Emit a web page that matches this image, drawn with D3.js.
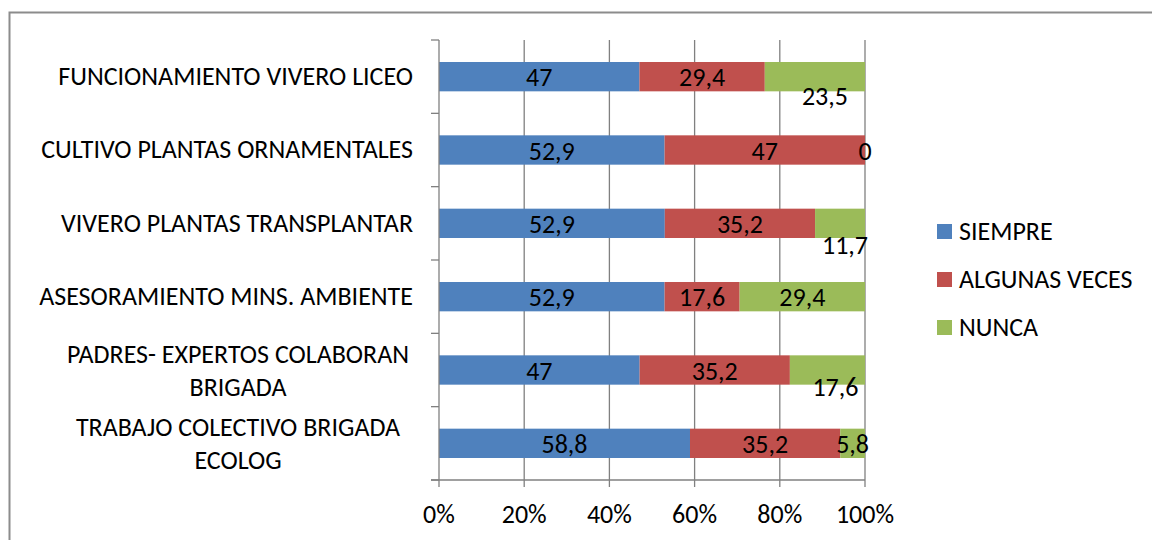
<!DOCTYPE html>
<html><head><meta charset="utf-8">
<script src="https://cdn.jsdelivr.net/npm/d3@7"></script>
<style>
body{margin:0;background:#fff}
text{font-family:Carlito,"Open Sans",sans-serif;font-size:26px;fill:#000}
</style></head>
<body><svg id="chart" width="1152" height="540"></svg>
<script>
// ---- data ----
const categories = [
  ["FUNCIONAMIENTO VIVERO LICEO"],
  ["CULTIVO PLANTAS ORNAMENTALES"],
  ["VIVERO PLANTAS TRANSPLANTAR"],
  ["ASESORAMIENTO MINS. AMBIENTE"],
  ["PADRES- EXPERTOS COLABORAN","BRIGADA"],
  ["TRABAJO COLECTIVO BRIGADA","ECOLOG"]
];
const seriesNames = ["SIEMPRE","ALGUNAS VECES","NUNCA"];
const siempre      = [47, 52.9, 52.9, 52.9, 47, 58.8];
const algunasVeces = [29.4, 47, 35.2, 17.6, 35.2, 35.2];
const nunca        = [23.5, 0, 11.7, 29.4, 17.6, 5.8];
const xTicks = [0, 20, 40, 60, 80, 100];
const xTickLabels = ["0%","20%","40%","60%","80%","100%"];

// ---- styling / layout ----
const colors = ["#4F81BD","#C0504D","#9BBB59"];
const gridColor = "#808080";
// manual label nudges for the NUNCA series (as in reference)
const nuncaLabelShift = [[10,19],[0,0],[5,21],[0,0],[8,16],[0,0]];

const svg = d3.select("#chart");
svg.append("rect").attr("x",9.5).attr("y",12.5).attr("width",1200).attr("height",600)
  .attr("fill","#fff").attr("stroke","#8c8c8c").attr("stroke-width",2);

const x = d3.scaleLinear().domain([0,100]).range([439,865]);
const catIdx = categories.map((c,i)=>i);
const y = d3.scaleBand().domain(catIdx).range([40,480]).paddingInner(0.6).paddingOuter(0.3);
const step = y.step();

// gridlines
svg.append("g").selectAll("line").data(xTicks.slice(1)).join("line")
  .attr("x1",d=>x(d)).attr("x2",d=>x(d)).attr("y1",40).attr("y2",480)
  .attr("stroke",gridColor).attr("stroke-width",1.3);

// stacked data (100%)
const series = [siempre, algunasVeces, nunca];
const rows = catIdx.map(i=>{
  const total = siempre[i]+algunasVeces[i]+nunca[i];
  let acc = 0;
  return series.map((s,k)=>{
    const v0 = acc/total*100; acc += s[i]; const v1 = acc/total*100;
    return {i,k,v:s[i],v0,v1};
  });
});
const segs = rows.flat();

svg.append("g").selectAll("rect").data(segs).join("rect")
  .attr("x",d=>x(d.v0)).attr("width",d=>x(d.v1)-x(d.v0))
  .attr("y",d=>y(d.i)).attr("height",y.bandwidth())
  .attr("fill",d=>colors[d.k]);

// data labels
svg.append("g").selectAll("text").data(segs).join("text")
  .attr("x",d=>(x(d.v0)+x(d.v1))/2 + (d.k===2?nuncaLabelShift[d.i][0]:0))
  .attr("y",d=>y(d.i)+y.bandwidth()/2 + 1.5 + (d.k===2?nuncaLabelShift[d.i][1]:0))
  .attr("dy","0.32em").attr("text-anchor","middle")
  .text(d=>String(d.v).replace(".",","));

// y axis line + ticks
const axisG = svg.append("g");
axisG.append("line").attr("x1",439).attr("x2",439).attr("y1",40).attr("y2",480)
  .attr("stroke",gridColor).attr("stroke-width",1.3);
const bounds = catIdx.map(i=>y(i)-(step-y.bandwidth())/2).concat([480]);
axisG.selectAll(".yt").data(bounds).join("line").attr("class","yt")
  .attr("x1",431).attr("x2",439).attr("y1",d=>d).attr("y2",d=>d)
  .attr("stroke",gridColor).attr("stroke-width",1.3);
// x axis line + ticks
axisG.append("line").attr("x1",431).attr("x2",865).attr("y1",480).attr("y2",480)
  .attr("stroke",gridColor).attr("stroke-width",1.3);
axisG.selectAll(".xt").data(xTicks).join("line").attr("class","xt")
  .attr("x1",d=>x(d)).attr("x2",d=>x(d)).attr("y1",480).attr("y2",487)
  .attr("stroke",gridColor).attr("stroke-width",1.3);
axisG.selectAll(".xl").data(xTicks).join("text").attr("class","xl")
  .attr("x",d=>x(d)).attr("y",515).attr("dy","0.32em").attr("text-anchor","middle")
  .text((d,i)=>xTickLabels[i]);

// category labels
const catG = svg.append("g");
categories.forEach((lines,i)=>{
  const cy = y(i)+y.bandwidth()/2;
  if(lines.length===1){
    catG.append("text").attr("x",413).attr("y",cy).attr("dy","0.32em")
      .attr("text-anchor","end").text(lines[0]);
  } else {
    lines.forEach((l,j)=>{
      catG.append("text").attr("x",238).attr("y",cy+1+(j-(lines.length-1)/2)*33)
        .attr("dy","0.32em").attr("text-anchor","middle").text(l);
    });
  }
});

// legend
const legG = svg.append("g");
seriesNames.forEach((n,k)=>{
  const cy = 231.5 + k*48;
  legG.append("rect").attr("x",937).attr("y",cy-7.5).attr("width",15).attr("height",15).attr("fill",colors[k]);
  legG.append("text").attr("x",959).attr("y",cy).attr("dy","0.32em").text(n);
});
</script></body></html>
